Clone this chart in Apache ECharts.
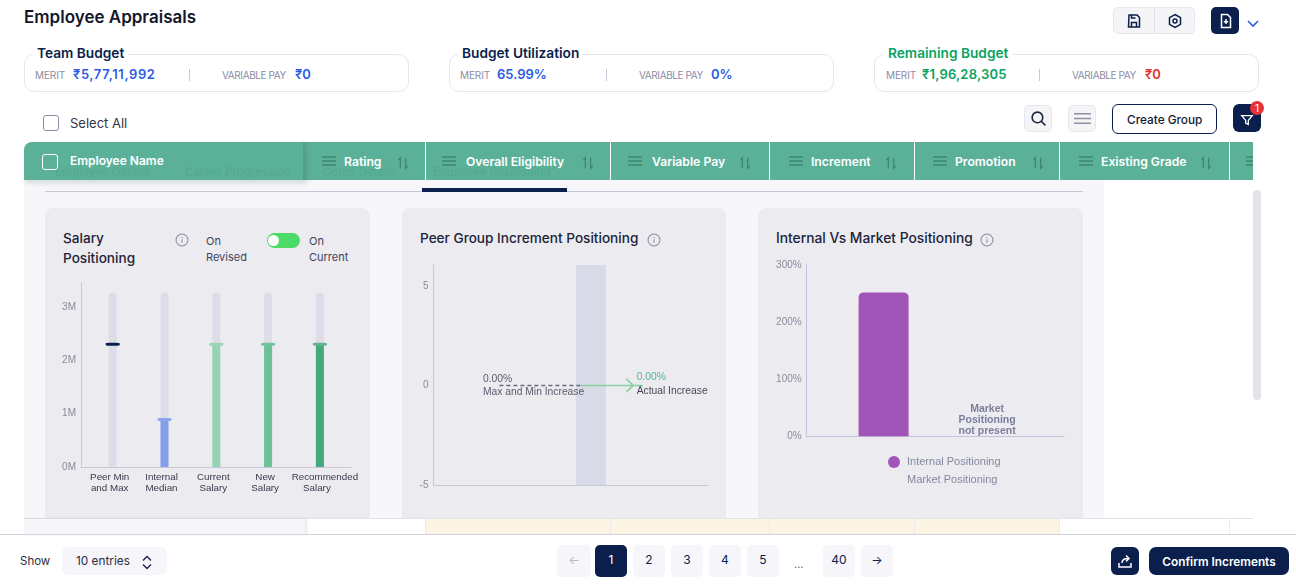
<!DOCTYPE html>
<html>
<head>
<meta charset="utf-8">
<title>Employee Appraisals</title>
<script src="https://cdn.jsdelivr.net/npm/echarts@6/dist/echarts.min.js"></script>
<style>
  html, body { margin: 0; padding: 0; background: #fff; }
  #page { position: relative; width: 1296px; height: 584px; overflow: hidden; font-family: Inter, "Noto Sans", sans-serif; color: #1c1f33; }
  #page div, #page span.t { position: absolute; box-sizing: border-box; }
  .t { white-space: nowrap; line-height: 18px; }
</style>
</head>
<body>
<div id="page"></div>
<script>
// salary chart
const salaryCategories = ["Peer Min\nand Max", "Internal\nMedian", "Current\nSalary", "New\nSalary", "Recommended\nSalary"];
const salaryTrack = [3270000, 3270000, 3270000, 3270000, 3270000];
const salaryFill = [null, 890000, 2300000, 2300000, 2300000];
const salaryMarker = [2300000, 890000, 2300000, 2300000, 2300000];
const salaryFillColors = ["#dcdde9", "#84a0ec", "#96d3b4", "#6cc097", "#44aa7c"];
const salaryMarkerColors = ["#0a1f4b", "#89a5ee", "#9cd6b8", "#72c29c", "#5fb496"];

// peer group chart
const peerRange = [-5, 6.05];
const maxMinIncrease = [0, 0];
const actualIncrease = [0, 0];
const maxMinLabel = ["0.00%", "Max and Min Increase"];
const actualLabel = ["0.00%", "Actual Increase"];

// internal vs market chart
const positioningNames = ["Internal Positioning", "Market Positioning"];
const internalPositioning = [252];
const marketPositioning = [0];
const marketNote = "Market\nPositioning\nnot present";

const NAVY = "#0a1f4b";
const page = document.getElementById("page");

function box(x, y, w, h, css, html) {
  const d = document.createElement("div");
  d.style.cssText = `left:${x}px;top:${y}px;width:${w}px;height:${h}px;${css || ""}`;
  if (html) d.innerHTML = html;
  page.appendChild(d);
  return d;
}
function text(x, y, str, css) {
  const s = document.createElement("span");
  s.className = "t";
  s.style.cssText = `left:${x}px;top:${y - 9}px;${css || ""}`;
  s.textContent = str;
  page.appendChild(s);
  return s;
}
function svg(size, inner, stroke) {
  return `<svg width="${size}" height="${size}" viewBox="0 0 16 16" fill="none" stroke="${stroke}" stroke-width="1.5">${inner}</svg>`;
}
const hamburger = (c) => svg(16, '<path d="M1 4h14M1 8h14M1 12h14"/>', c);
const sortIcon = (c) => svg(14, '<path d="M5 14V2L2.5 5M11 2v12l2.5-3"/>', c);
const infoIcon = svg(14, '<circle cx="8" cy="8" r="6.8" stroke-width="1.2"/><path d="M8 7.2v4M8 4.6v1.2" stroke-width="1.2"/>', "#8b8ca3");

// page title and top right buttons
text(24, 17, "Employee Appraisals", "font-size:17px;font-weight:600;color:#14172b");
box(1113, 7, 82, 27, "background:#f5f5f8;border:1px solid #e6e6ee;border-radius:5px");
box(1154, 7, 1, 27, "background:#e2e2ea");
box(1126, 13, 16, 16, "", svg(16, '<path d="M3 2h8l2.5 2.5V14h-11zM5.5 14V9.5h5V14M5.5 2v3h4"/>', NAVY));
box(1167, 13, 16, 16, "", svg(16, '<path d="M8 1.5l5.5 3.2v6.6L8 14.5l-5.5-3.2V4.7z"/><circle cx="8" cy="8" r="2"/>', NAVY));
box(1211, 7, 28, 27, `background:${NAVY};border-radius:5px`);
box(1218, 13, 15, 16, "", svg(16, '<path d="M3.5 1.5h6l3 3v10h-9zM8 6v5M5.8 8.8h4.4" />', "#fff"));
box(1246, 14, 14, 12, "", '<svg width="14" height="12" viewBox="0 0 14 12" fill="none" stroke="#2d5be3" stroke-width="1.6"><path d="M2 3l5 5 5-5"/></svg>');

// budget cards
const cards = [
  { x: 24, title: "Team Budget", tx: 37, tc: NAVY, lx: 35, mv: "₹5,77,11,992", mx: 73, mc: "#2d5be3", ms: 0.6, dv: 189, vx: 222, pv: "₹0", px: 295, pc: "#2d5be3" },
  { x: 449, title: "Budget Utilization", tx: 462, tc: NAVY, lx: 460, mv: "65.99%", mx: 497, mc: "#2d5be3", ms: 0, dv: 606, vx: 639, pv: "0%", px: 711, pc: "#2d5be3" },
  { x: 874, title: "Remaining Budget", tx: 888, tc: "#0aa35f", lx: 886, mv: "₹1,96,28,305", mx: 922, mc: "#0aa35f", ms: 0.2, dv: 1039, vx: 1072, pv: "₹0", px: 1145, pc: "#e8322d" },
];
cards.forEach((c) => {
  box(c.x, 54, 385, 38, "border:1px solid #e6e6ee;border-radius:10px");
  text(c.tx, 53, c.title, `font-size:13.7px;font-weight:600;color:${c.tc};background:#fff;padding:0 4px;margin-left:-4px;line-height:14px;top:46px`);
  text(c.lx, 75, "MERIT", "font-size:10px;letter-spacing:-.1px;color:#8b8ca3");
  text(c.mx, 74, c.mv, `font-size:13px;font-weight:600;letter-spacing:${c.ms}px;color:${c.mc}`);
  box(c.dv, 69, 1, 12, "background:#c8c8d8");
  text(c.vx, 75, "VARIABLE PAY", "font-size:10px;letter-spacing:-.4px;color:#8b8ca3");
  text(c.px, 74, c.pv, `font-size:13px;font-weight:600;color:${c.pc}`);
});

// toolbar row
box(43, 115, 16, 16, "border:1.5px solid #8b8ca8;border-radius:3px");
text(70, 123, "Select All", "font-size:13px;color:#33364a");
box(1024, 105, 28, 27, "background:#f5f5f8;border:1px solid #e6e6ee;border-radius:5px");
box(1030, 110, 17, 17, "", svg(17, '<circle cx="7" cy="7" r="5"/><path d="M10.8 10.8l3.7 3.7"/>', "#1c2540"));
box(1068, 105, 28, 27, "background:#f5f5f8;border:1px solid #e6e6ee;border-radius:5px");
box(1074, 110, 17, 17, "", svg(17, '<path d="M0 3.5h16M0 8h16M0 12.5h16"/>', "#8f8fa6"));
box(1112, 104, 105, 30, `border:1.5px solid ${NAVY};border-radius:6px`);
text(1127, 120, "Create Group", "font-size:11.8px;font-weight:500;color:#111a33");
box(1233, 104, 28, 28, `background:${NAVY};border-radius:6px`);
box(1240, 111, 14, 14, "", svg(14, '<path d="M2 3h12L9.5 8.5V13L6.5 11.5v-3z"/>', "#fff"));
box(1250, 101, 14, 14, "background:#e8323a;border-radius:7px;color:#fff;font-size:10px;line-height:14px;text-align:center", "1");

// panel area under the header
box(24, 180, 1080, 338, "background:#f7f7fa");
box(45, 191, 1038, 1, "background:#c8c8d8");
box(422, 188, 145, 4, `background:${NAVY}`);

// table header, faded tab labels show through it
box(24, 142, 1229, 38, "background:#5bb198;border-radius:8px 0 0 0;overflow:hidden");
[[55, "Employee Details"], [185, "Career Progression"], [323, "Comp Details"], [433, "Employee Positioning"]].forEach(([x, s]) => {
  text(x, 172, s, "font-size:11.5px;font-weight:500;color:#53a98f");
});
box(24, 142, 281, 38, "border-right:2px solid #519f88;box-shadow:2px 3px 5px rgba(60,80,80,.18);border-radius:8px 0 0 0");
box(42, 154, 16, 16, "border:1.5px solid #fff;border-radius:3px");
text(70, 161, "Employee Name", "font-size:12px;font-weight:600;color:#fff");
const columnEdges = [425, 610, 769, 914, 1059, 1229];
columnEdges.forEach((x) => box(x, 142, 1, 38, "background:#fff"));
const headerCols = [
  ["Rating", 321, 344, 396],
  ["Overall Eligibility", 441, 466, 581],
  ["Variable Pay", 627, 652, 738],
  ["Increment", 788, 811, 884],
  ["Promotion", 932, 955, 1031],
  ["Existing Grade", 1078, 1101, 1199],
];
headerCols.forEach(([s, hamX, txtX, sortX]) => {
  box(hamX, 153, 16, 16, "", hamburger("#3f8672"));
  text(txtX, 162, s, "font-size:12.2px;font-weight:600;color:#fff");
  box(sortX, 154, 14, 14, "", sortIcon("#3f8672"));
});
box(1245, 153, 8, 16, "overflow:hidden", hamburger("#3f8672"));

// scrollbar
box(1253, 190, 8, 210, "background:#e3e3ea;border-radius:4px");

// chart panels
const panels = [[45, 325], [402, 324], [758, 325]];
panels.forEach(([x, w]) => box(x, 208, w, 310, "background:#ecebf0;border-radius:8px 8px 0 0"));

const titleCss = "font-size:13.6px;font-weight:500;color:#20233a;";
text(63, 238, "Salary", titleCss);
text(63, 258, "Positioning", titleCss);
box(175, 231, 14, 14, "", infoIcon);
text(206, 241, "On", "font-size:11px;color:#40435a");
text(206, 257, "Revised", "font-size:11px;color:#40435a");
box(267, 233, 33, 15, "background:#4cdb66;border-radius:8px");
box(267.5, 235, 11, 11, "background:#fff;border-radius:50%");
text(309, 241, "On", "font-size:11px;color:#40435a");
text(309, 257, "Current", "font-size:11px;color:#40435a");
text(420, 238, "Peer Group Increment Positioning", titleCss);
box(647, 231, 14, 14, "", infoIcon);
text(776, 238, "Internal Vs Market Positioning", "font-size:13.8px;font-weight:500;color:#20233a;");
box(980, 231, 14, 14, "", infoIcon);

const salaryEl = box(45, 208, 325, 310);
const peerEl = box(402, 208, 324, 310);
const marketEl = box(758, 208, 325, 310);

// row below the panels
box(24, 518, 1229, 1, "background:#e2e2e8");
box(24, 519, 281, 15, "background:#f6f6f8;box-shadow:2px 0 3px rgba(60,60,80,.12)");
box(425, 519, 635, 15, "background:#fdf5e4");
columnEdges.forEach((x) => box(x, 519, 1, 15, "background:#ececf0"));
box(0, 534, 1296, 1, "background:#d2d2de");

// footer
text(20, 561, "Show", "font-size:11.5px;color:#2a2d42");
box(62, 547, 105, 28, "background:#f6f6fa;border-radius:6px");
text(76, 561, "10 entries", "font-size:11.8px;color:#2a2d42");
box(141, 554, 12, 15, "", '<svg width="12" height="15" viewBox="0 0 12 15" fill="none" stroke="#1c2540" stroke-width="1.4"><path d="M2 5.5l4-4 4 4M2 9.5l4 4 4-4"/></svg>');
const pages = [[557, "←", "#b5b6c6"], [595, "1", "#fff"], [633, "2", NAVY], [671, "3", NAVY], [709, "4", NAVY], [747, "5", NAVY], [823, "40", NAVY], [861, "→", NAVY]];
pages.forEach(([x, s, c]) => {
  const bg = s === "1" ? NAVY : "#f5f5fa";
  const w = x === 557 ? 34 : 32;
  box(x, 545, w, 32, `background:${bg};border-radius:5px;color:${c};font-size:12px;line-height:30px;text-align:center`, s);
});
text(794, 564, "...", "font-size:11px;color:#6a6c80");
box(1111, 547, 28, 28, `background:${NAVY};border-radius:6px`);
box(1117, 553, 16, 16, "", svg(16, '<path d="M2 10v4h12v-4M5 10c0-3 2-4.5 6-4.5M9 2.5l3 3-3 3" />', "#fff"));
box(1149, 547, 140, 28, `background:${NAVY};border-radius:7px;color:#fff;font-size:11.8px;font-weight:600;line-height:30px;text-align:center`, "Confirm Increments");

// charts
const CHART_FONT = '"Liberation Sans", Arial, sans-serif';
const AXIS_COLOR = "#c8c8d8";
const TICK_COLOR = "#8a8b9c";
const LABEL_COLOR = "#3a3a4c";

const salaryChart = echarts.init(salaryEl);
salaryChart.setOption({
  animation: false,
  textStyle: { fontFamily: CHART_FONT },
  grid: [
    { left: 36, top: 75, width: 270, height: 184 },
    { left: 41.8, top: 75, width: 259, height: 184 },
  ],
  xAxis: [
    { gridIndex: 0, type: "value", min: 0, max: 1, axisTick: { show: false }, axisLabel: { show: false }, splitLine: { show: false }, axisLine: { show: true, lineStyle: { color: AXIS_COLOR } } },
    {
      gridIndex: 1,
      type: "category",
      data: salaryCategories,
      axisLine: { show: false },
      axisTick: { show: false },
      axisLabel: {
        interval: 0,
        margin: 5,
        fontSize: 9.8,
        lineHeight: 11,
        color: LABEL_COLOR,
        padding: [0, 6, 0, 0],
        // the long label sits off centre in the reference
        formatter: (v, i) => (i === salaryCategories.length - 1 ? v.replace(/^(.*)\n/, "{shift|$1}\n") : v),
        rich: { shift: { fontSize: 9.8, lineHeight: 11, color: LABEL_COLOR, padding: [0, 0, 0, 16] } },
      },
    },
  ],
  yAxis: [
    {
      gridIndex: 0,
      type: "value",
      min: 0,
      max: 3450000,
      interval: 1000000,
      splitLine: { show: false },
      axisTick: { show: false },
      axisLine: { show: true, lineStyle: { color: AXIS_COLOR } },
      axisLabel: { showMaxLabel: false, margin: 5, fontSize: 10, color: TICK_COLOR, padding: [4, 0, 0, 0], formatter: (v) => v / 1000000 + "M" },
    },
    { gridIndex: 1, type: "value", min: 0, max: 3450000, show: false },
  ],
  series: [
    { type: "bar", xAxisIndex: 1, yAxisIndex: 1, barWidth: 8, barGap: "-100%", data: salaryTrack, itemStyle: { color: "#dcdde9", borderRadius: [4, 4, 0, 0] } },
    {
      type: "bar",
      xAxisIndex: 1,
      yAxisIndex: 1,
      barWidth: 8,
      barGap: "-100%",
      data: salaryFill.map((v, i) => ({ value: v, itemStyle: { color: salaryFillColors[i] } })),
    },
    {
      type: "scatter",
      xAxisIndex: 1,
      yAxisIndex: 1,
      symbol: "roundRect",
      symbolSize: [14, 3],
      z: 5,
      data: salaryMarker.map((v, i) => ({ value: [i, v], itemStyle: { color: salaryMarkerColors[i], opacity: 1 } })),
    },
  ],
});

// x runs 0 to 100 over the plot width, the original chart has no x scale
const peerChart = echarts.init(peerEl);
peerChart.setOption({
  animation: false,
  textStyle: { fontFamily: CHART_FONT },
  grid: { left: 31.5, top: 57, width: 274.5, height: 220 },
  xAxis: { type: "value", min: 0, max: 100, axisLabel: { show: false }, axisTick: { show: false }, splitLine: { show: false }, axisLine: { show: true, onZero: false, lineStyle: { color: AXIS_COLOR } } },
  yAxis: {
    type: "value",
    min: peerRange[0],
    max: peerRange[1],
    interval: 5,
    splitLine: { show: false },
    axisTick: { show: false },
    axisLine: { show: true, onZero: false, lineStyle: { color: AXIS_COLOR } },
    axisLabel: { showMaxLabel: false, margin: 5, fontSize: 10, color: TICK_COLOR, padding: [4, 0, 0, 0] },
  },
  series: [
    {
      type: "line",
      symbol: "none",
      data: [[24, maxMinIncrease[0]], [53.4, maxMinIncrease[1]]],
      lineStyle: { color: "#686b88", width: 1.5, type: [4, 3] },
      markArea: {
        silent: true,
        itemStyle: { color: "#d8dae8" },
        data: [[{ xAxis: 51.9, yAxis: peerRange[0] }, { xAxis: 62.8, yAxis: peerRange[1] }]],
      },
      z: 3,
    },
    {
      type: "line",
      symbol: "none",
      data: [[53.4, actualIncrease[0]], [76.3, actualIncrease[1]]],
      lineStyle: { color: "#86d1a0", width: 1.5 },
      z: 3,
    },
    {
      type: "scatter",
      symbol: "path://M0 0L10 10L0 20",
      symbolSize: [7, 13],
      symbolKeepAspect: false,
      data: [[71.5, actualIncrease[1]]],
      itemStyle: { color: "none", borderColor: "#86d1a0", borderWidth: 1.5, opacity: 1 },
      z: 4,
    },
    {
      type: "scatter",
      symbolSize: 0,
      data: [[18, maxMinIncrease[0]]],
      label: {
        show: true,
        position: "right",
        distance: 0,
        offset: [0, 0],
        formatter: `{a|${maxMinLabel[0]}}\n{b|${maxMinLabel[1]}}`,
        rich: { a: { fontSize: 10.3, lineHeight: 13, color: "#33364a" }, b: { fontSize: 10.3, lineHeight: 13, color: "#33364a" } },
      },
      z: 6,
    },
    {
      type: "scatter",
      symbolSize: 0,
      data: [[74, actualIncrease[1]]],
      label: {
        show: true,
        position: "right",
        distance: 0,
        offset: [0, -1.5],
        formatter: `{a|${actualLabel[0]}}\n{b|${actualLabel[1]}}`,
        rich: { a: { fontSize: 10.3, lineHeight: 14, color: "#2aa77f" }, b: { fontSize: 10.3, lineHeight: 14, color: "#14172b" } },
      },
      z: 6,
    },
  ],
});

const marketChart = echarts.init(marketEl);
marketChart.setOption({
  animation: false,
  textStyle: { fontFamily: CHART_FONT },
  grid: { left: 48.7, top: 57, width: 257.3, height: 171.3 },
  legend: {
    orient: "vertical",
    left: 130,
    top: 248,
    padding: 0,
    itemWidth: 12,
    itemHeight: 12,
    itemGap: 6,
    icon: "circle",
    selectedMode: false,
    textStyle: { fontFamily: CHART_FONT, fontSize: 11, color: "#84889f", padding: [0, 0, 0, 2] },
    data: positioningNames,
  },
  xAxis: { type: "category", data: ["Positioning"], axisLabel: { show: false }, axisTick: { show: false }, axisLine: { lineStyle: { color: "#c5c0de" } } },
  yAxis: {
    type: "value",
    min: 0,
    max: 300,
    interval: 100,
    splitLine: { show: false },
    axisTick: { show: false },
    axisLine: { show: true, lineStyle: { color: "#c5c0de" } },
    axisLabel: { margin: 5, fontSize: 10, color: TICK_COLOR, padding: [4, 0, 0, 0], formatter: "{value}%" },
  },
  series: [
    { name: positioningNames[0], type: "bar", barWidth: 50, barGap: "107%", data: internalPositioning, itemStyle: { color: "#a155b8", borderRadius: [5, 5, 0, 0] } },
    {
      name: positioningNames[1],
      type: "bar",
      barWidth: 50,
      data: marketPositioning,
      itemStyle: { color: "transparent" },
      label: { show: true, position: "top", distance: 0, formatter: marketNote, fontFamily: CHART_FONT, fontSize: 10.5, fontWeight: "bold", lineHeight: 11, color: "#7b7f9b" },
    },
  ],
});
</script>
</body>
</html>
